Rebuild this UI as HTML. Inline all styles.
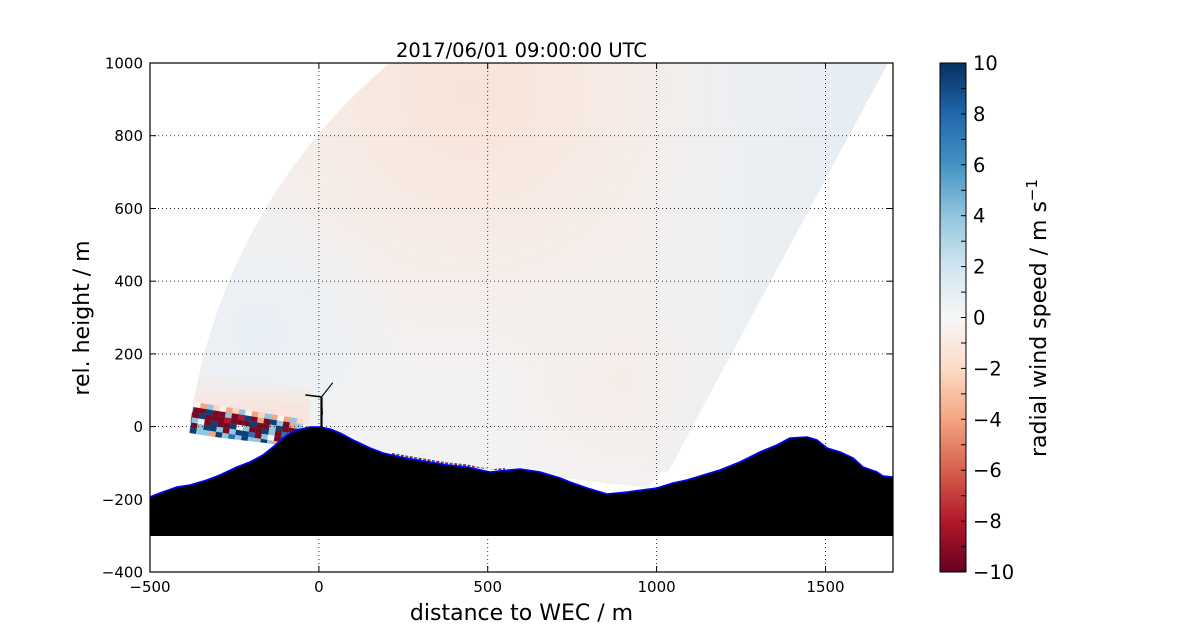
<!DOCTYPE html>
<html><head><meta charset="utf-8">
<style>
html,body{margin:0;padding:0;background:#fff;}
svg{display:block;}
text{font-family:"DejaVu Sans","Liberation Sans",sans-serif;fill:#000;}
.R{fill:#7a0822}.r{fill:#b2182b}.B{fill:#0d3f7a}.b{fill:#2f6fae}.L{fill:#92c5de}.P{fill:#f4a582}.W{fill:#f7f4f2}.p{fill:#fbd5c2}
</style></head>
<body>
<svg width="1200" height="636" viewBox="0 0 1200 636" xmlns="http://www.w3.org/2000/svg">
<defs>
  <clipPath id="ax"><rect x="150" y="63" width="743" height="509"/></clipPath>
  <clipPath id="fan"><path d="M648,488 L189,434 A568.3,568.3 0 0 1 390,63 L888,63 L668,472 L660,473 Z"/></clipPath>
  <radialGradient id="peach" gradientUnits="userSpaceOnUse" cx="470" cy="90" r="290">
    <stop offset="0" stop-color="#f9e2d6" stop-opacity="0.95"/>
    <stop offset="0.5" stop-color="#f9e5db" stop-opacity="0.55"/>
    <stop offset="1" stop-color="#f8e6de" stop-opacity="0"/>
  </radialGradient>
  <linearGradient id="blueR" gradientUnits="userSpaceOnUse" x1="630" y1="0" x2="860" y2="0">
    <stop offset="0" stop-color="#e6edf3" stop-opacity="0"/>
    <stop offset="1" stop-color="#e6edf3" stop-opacity="1"/>
  </linearGradient>
  <radialGradient id="blueL" gradientUnits="userSpaceOnUse" cx="260" cy="330" r="150">
    <stop offset="0" stop-color="#e8eff5" stop-opacity="1"/>
    <stop offset="1" stop-color="#e8eff5" stop-opacity="0"/>
  </radialGradient>
  <radialGradient id="peachLow" gradientUnits="userSpaceOnUse" cx="620" cy="380" r="130">
    <stop offset="0" stop-color="#f6ebe6" stop-opacity="0.8"/>
    <stop offset="1" stop-color="#f6ebe6" stop-opacity="0"/>
  </radialGradient>
  <linearGradient id="peachBand" gradientUnits="userSpaceOnUse" x1="0" y1="370" x2="0" y2="410">
    <stop offset="0" stop-color="#f9e7df" stop-opacity="0"/>
    <stop offset="1" stop-color="#f9e3d9" stop-opacity="0.9"/>
  </linearGradient>
  <linearGradient id="cbar" x1="0" y1="1" x2="0" y2="0">
    <stop offset="0" stop-color="#67001f"/>
    <stop offset="0.1" stop-color="#b2182b"/>
    <stop offset="0.2" stop-color="#d6604d"/>
    <stop offset="0.3" stop-color="#f4a582"/>
    <stop offset="0.4" stop-color="#fddbc7"/>
    <stop offset="0.5" stop-color="#f7f7f7"/>
    <stop offset="0.6" stop-color="#d1e5f0"/>
    <stop offset="0.7" stop-color="#92c5de"/>
    <stop offset="0.8" stop-color="#4393c3"/>
    <stop offset="0.9" stop-color="#2166ac"/>
    <stop offset="1" stop-color="#053061"/>
  </linearGradient>
</defs>

<!-- Fan (RHI scan) -->
<g clip-path="url(#ax)">
<g clip-path="url(#fan)">
  <rect x="150" y="63" width="743" height="509" fill="#f3f2f2"/>
  <rect x="150" y="63" width="743" height="509" fill="url(#peach)"/>
  <rect x="150" y="63" width="743" height="509" fill="url(#peachLow)"/>
  <rect x="150" y="63" width="743" height="509" fill="url(#blueL)"/>
  <rect x="150" y="63" width="743" height="509" fill="url(#blueR)"/>
  <polygon points="185,370 310,390 310,425 185,404" fill="url(#peachBand)"/>
  <!-- noisy band -->
  <g transform="translate(188,401) rotate(9)">
    <rect class="p" x="0" y="0" width="6.6" height="5.3"/><rect class="W" x="6.5" y="0" width="6.6" height="5.3"/><rect class="P" x="13" y="0" width="6.6" height="5.3"/><rect class="L" x="19.5" y="0" width="6.6" height="5.3"/><rect class="p" x="26" y="0" width="6.6" height="5.3"/><rect class="W" x="32.5" y="0" width="6.6" height="5.3"/><rect class="P" x="39" y="0" width="6.6" height="5.3"/><rect class="p" x="45.5" y="0" width="6.6" height="5.3"/><rect class="L" x="52" y="0" width="6.6" height="5.3"/><rect class="W" x="58.5" y="0" width="6.6" height="5.3"/><rect class="P" x="65" y="0" width="6.6" height="5.3"/><rect class="p" x="71.5" y="0" width="6.6" height="5.3"/><rect class="L" x="78" y="0" width="6.6" height="5.3"/><rect class="P" x="84.5" y="0" width="6.6" height="5.3"/><rect class="W" x="91" y="0" width="6.6" height="5.3"/><rect class="P" x="97.5" y="0" width="6.6" height="5.3"/><rect class="L" x="104" y="0" width="6.6" height="5.3"/><rect class="p" x="110.5" y="0" width="6.6" height="5.3"/>
    <rect class="L" x="0" y="5.2" width="6.6" height="5.3"/><rect class="R" x="6.5" y="5.2" width="6.6" height="5.3"/><rect class="R" x="13" y="5.2" width="6.6" height="5.3"/><rect class="B" x="19.5" y="5.2" width="6.6" height="5.3"/><rect class="R" x="26" y="5.2" width="6.6" height="5.3"/><rect class="R" x="32.5" y="5.2" width="6.6" height="5.3"/><rect class="L" x="39" y="5.2" width="6.6" height="5.3"/><rect class="R" x="45.5" y="5.2" width="6.6" height="5.3"/><rect class="r" x="52" y="5.2" width="6.6" height="5.3"/><rect class="B" x="58.5" y="5.2" width="6.6" height="5.3"/><rect class="R" x="65" y="5.2" width="6.6" height="5.3"/><rect class="P" x="71.5" y="5.2" width="6.6" height="5.3"/><rect class="R" x="78" y="5.2" width="6.6" height="5.3"/><rect class="B" x="84.5" y="5.2" width="6.6" height="5.3"/><rect class="L" x="91" y="5.2" width="6.6" height="5.3"/><rect class="R" x="97.5" y="5.2" width="6.6" height="5.3"/><rect class="P" x="104" y="5.2" width="6.6" height="5.3"/><rect class="L" x="110.5" y="5.2" width="6.6" height="5.3"/>
    <rect class="R" x="0" y="10.4" width="6.6" height="5.3"/><rect class="R" x="6.5" y="10.4" width="6.6" height="5.3"/><rect class="B" x="13" y="10.4" width="6.6" height="5.3"/><rect class="R" x="19.5" y="10.4" width="6.6" height="5.3"/><rect class="R" x="26" y="10.4" width="6.6" height="5.3"/><rect class="R" x="32.5" y="10.4" width="6.6" height="5.3"/><rect class="r" x="39" y="10.4" width="6.6" height="5.3"/><rect class="R" x="45.5" y="10.4" width="6.6" height="5.3"/><rect class="R" x="52" y="10.4" width="6.6" height="5.3"/><rect class="R" x="58.5" y="10.4" width="6.6" height="5.3"/><rect class="B" x="65" y="10.4" width="6.6" height="5.3"/><rect class="R" x="71.5" y="10.4" width="6.6" height="5.3"/><rect class="R" x="78" y="10.4" width="6.6" height="5.3"/><rect class="L" x="84.5" y="10.4" width="6.6" height="5.3"/><rect class="B" x="91" y="10.4" width="6.6" height="5.3"/><rect class="R" x="97.5" y="10.4" width="6.6" height="5.3"/><rect class="R" x="104" y="10.4" width="6.6" height="5.3"/><rect class="B" x="110.5" y="10.4" width="6.6" height="5.3"/>
    <rect class="B" x="0" y="15.6" width="6.6" height="5.3"/><rect class="L" x="6.5" y="15.6" width="6.6" height="5.3"/><rect class="W" x="13" y="15.6" width="6.6" height="5.3"/><rect class="R" x="19.5" y="15.6" width="6.6" height="5.3"/><rect class="B" x="26" y="15.6" width="6.6" height="5.3"/><rect class="R" x="32.5" y="15.6" width="6.6" height="5.3"/><rect class="R" x="39" y="15.6" width="6.6" height="5.3"/><rect class="B" x="45.5" y="15.6" width="6.6" height="5.3"/><rect class="W" x="52" y="15.6" width="6.6" height="5.3"/><rect class="L" x="58.5" y="15.6" width="6.6" height="5.3"/><rect class="R" x="65" y="15.6" width="6.6" height="5.3"/><rect class="R" x="71.5" y="15.6" width="6.6" height="5.3"/><rect class="B" x="78" y="15.6" width="6.6" height="5.3"/><rect class="L" x="84.5" y="15.6" width="6.6" height="5.3"/><rect class="R" x="91" y="15.6" width="6.6" height="5.3"/><rect class="b" x="97.5" y="15.6" width="6.6" height="5.3"/><rect class="L" x="104" y="15.6" width="6.6" height="5.3"/><rect class="R" x="110.5" y="15.6" width="6.6" height="5.3"/>
    <rect class="W" x="0" y="20.8" width="6.6" height="5.3"/><rect class="R" x="6.5" y="20.8" width="6.6" height="5.3"/><rect class="L" x="13" y="20.8" width="6.6" height="5.3"/><rect class="B" x="19.5" y="20.8" width="6.6" height="5.3"/><rect class="B" x="26" y="20.8" width="6.6" height="5.3"/><rect class="L" x="32.5" y="20.8" width="6.6" height="5.3"/><rect class="R" x="39" y="20.8" width="6.6" height="5.3"/><rect class="L" x="45.5" y="20.8" width="6.6" height="5.3"/><rect class="B" x="52" y="20.8" width="6.6" height="5.3"/><rect class="B" x="58.5" y="20.8" width="6.6" height="5.3"/><rect class="b" x="65" y="20.8" width="6.6" height="5.3"/><rect class="R" x="71.5" y="20.8" width="6.6" height="5.3"/><rect class="L" x="78" y="20.8" width="6.6" height="5.3"/><rect class="W" x="84.5" y="20.8" width="6.6" height="5.3"/><rect class="R" x="91" y="20.8" width="6.6" height="5.3"/><rect class="B" x="97.5" y="20.8" width="6.6" height="5.3"/><rect class="L" x="104" y="20.8" width="6.6" height="5.3"/><rect class="B" x="110.5" y="20.8" width="6.6" height="5.3"/>
    <rect class="L" x="0" y="26" width="6.6" height="5.3"/><rect class="B" x="6.5" y="26" width="6.6" height="5.3"/><rect class="L" x="13" y="26" width="6.6" height="5.3"/><rect class="L" x="19.5" y="26" width="6.6" height="5.3"/><rect class="P" x="26" y="26" width="6.6" height="5.3"/><rect class="B" x="32.5" y="26" width="6.6" height="5.3"/><rect class="L" x="39" y="26" width="6.6" height="5.3"/><rect class="b" x="45.5" y="26" width="6.6" height="5.3"/><rect class="L" x="52" y="26" width="6.6" height="5.3"/><rect class="B" x="58.5" y="26" width="6.6" height="5.3"/><rect class="L" x="65" y="26" width="6.6" height="5.3"/><rect class="L" x="71.5" y="26" width="6.6" height="5.3"/><rect class="B" x="78" y="26" width="6.6" height="5.3"/><rect class="L" x="84.5" y="26" width="6.6" height="5.3"/><rect class="P" x="91" y="26" width="6.6" height="5.3"/><rect class="L" x="97.5" y="26" width="6.6" height="5.3"/><rect class="B" x="104" y="26" width="6.6" height="5.3"/><rect class="W" x="110.5" y="26" width="6.6" height="5.3"/>
  </g>
  <!-- thin noisy strip along terrain -->
  <polyline points="392,454 400,455.5 423,459.5 447,463.5 467,465.5 490,470.5 505,469" fill="none" stroke="#b2182b" stroke-width="2.2" stroke-dasharray="3 6"/>
  <polyline points="392,454 400,455.5 423,459.5 447,463.5 467,465.5 490,470.5 505,469" fill="none" stroke="#2166ac" stroke-width="2.2" stroke-dasharray="3 6" stroke-dashoffset="4.5"/>
</g>

<!-- grid -->
<g stroke="#222" stroke-width="0.9" stroke-dasharray="1 3" fill="none">
  <line x1="318.9" y1="63" x2="318.9" y2="572"/>
  <line x1="487.7" y1="63" x2="487.7" y2="572"/>
  <line x1="656.6" y1="63" x2="656.6" y2="572"/>
  <line x1="825.5" y1="63" x2="825.5" y2="572"/>
  <line x1="150" y1="135.7" x2="893" y2="135.7"/>
  <line x1="150" y1="208.5" x2="893" y2="208.5"/>
  <line x1="150" y1="281.2" x2="893" y2="281.2"/>
  <line x1="150" y1="353.9" x2="893" y2="353.9"/>
  <line x1="150" y1="426.6" x2="893" y2="426.6"/>
  <line x1="150" y1="499.3" x2="893" y2="499.3"/>
</g>

<!-- terrain -->
<path d="M150,497 L160,493 L177,487 L190,485 L207,480 L220,475 L237,467 L250,462 L263,455 L273,447 L287,435 L297,430 L310,427 L320,427 L330,429 L340,433 L353,440 L370,448 L383,453 L400,457 L423,461 L447,465 L467,467 L490,472 L520,469 L540,472 L560,478 L570,482 L587,488 L607,494 L627,492 L657,488 L673,483 L687,480 L720,470 L740,462 L760,452 L777,445 L790,438 L807,437 L817,440 L827,448 L840,452 L853,458 L863,467 L877,472 L883,476 L893,477 L893,536 L150,536 Z" fill="#000"/>
<polyline points="150,497 160,493 177,487 190,485 207,480 220,475 237,467 250,462 263,455 273,447 287,435 297,430 310,427 320,427 330,429 340,433 353,440 370,448 383,453 400,457 423,461 447,465 467,467 490,472 520,469 540,472 560,478 570,482 587,488 607,494 627,492 657,488 673,483 687,480 720,470 740,462 760,452 777,445 790,438 807,437 817,440 827,448 840,452 853,458 863,467 877,472 883,476 893,477" fill="none" stroke="#0000ff" stroke-width="1.6" stroke-linejoin="round"/>

<!-- wind turbine -->
<g stroke="#000" fill="none" stroke-linecap="round">
  <line x1="321.5" y1="427" x2="321.5" y2="397" stroke-width="2.2"/>
  <line x1="321.5" y1="397" x2="332.5" y2="383" stroke-width="1.1"/>
  <line x1="321.5" y1="397" x2="306" y2="395" stroke-width="1.6"/>
  <line x1="321.5" y1="397" x2="322.5" y2="414" stroke-width="1"/>
</g>
</g>

<!-- axes frame -->
<rect x="150" y="63" width="743" height="509" fill="none" stroke="#000" stroke-width="1.2"/>

<!-- ticks -->
<g stroke="#000" stroke-width="1">
  <line x1="318.9" y1="572" x2="318.9" y2="566"/><line x1="487.7" y1="572" x2="487.7" y2="566"/><line x1="656.6" y1="572" x2="656.6" y2="566"/><line x1="825.5" y1="572" x2="825.5" y2="566"/>
  <line x1="318.9" y1="63" x2="318.9" y2="69"/><line x1="487.7" y1="63" x2="487.7" y2="69"/><line x1="656.6" y1="63" x2="656.6" y2="69"/><line x1="825.5" y1="63" x2="825.5" y2="69"/>
  <line x1="150" y1="135.7" x2="156" y2="135.7"/><line x1="150" y1="208.5" x2="156" y2="208.5"/><line x1="150" y1="281.2" x2="156" y2="281.2"/><line x1="150" y1="353.9" x2="156" y2="353.9"/><line x1="150" y1="426.6" x2="156" y2="426.6"/><line x1="150" y1="499.3" x2="156" y2="499.3"/>
  <line x1="893" y1="135.7" x2="887" y2="135.7"/><line x1="893" y1="208.5" x2="887" y2="208.5"/><line x1="893" y1="281.2" x2="887" y2="281.2"/><line x1="893" y1="353.9" x2="887" y2="353.9"/><line x1="893" y1="426.6" x2="887" y2="426.6"/><line x1="893" y1="499.3" x2="887" y2="499.3"/>
</g>

<!-- tick labels -->
<g font-size="15" text-anchor="end">
  <text x="143" y="68.5">1000</text>
  <text x="143" y="141.2">800</text>
  <text x="143" y="214">600</text>
  <text x="143" y="286.7">400</text>
  <text x="143" y="359.4">200</text>
  <text x="143" y="432.1">0</text>
  <text x="143" y="504.8">−200</text>
  <text x="143" y="577.5">−400</text>
</g>
<g font-size="15" text-anchor="middle">
  <text x="150" y="592">−500</text>
  <text x="318.9" y="592">0</text>
  <text x="487.7" y="592">500</text>
  <text x="656.6" y="592">1000</text>
  <text x="825.5" y="592">1500</text>
</g>

<!-- title & axis labels -->
<text x="521.5" y="57" font-size="19.5" text-anchor="middle">2017/06/01 09:00:00 UTC</text>
<text x="521.5" y="620" font-size="22" text-anchor="middle">distance to WEC / m</text>
<text transform="translate(89,318) rotate(-90)" font-size="22" text-anchor="middle">rel. height / m</text>

<!-- colorbar -->
<rect x="940" y="63" width="26" height="509" fill="url(#cbar)" stroke="#000" stroke-width="1"/>
<g stroke="#000" stroke-width="1">
  <line x1="966" y1="88.5" x2="961" y2="88.5"/><line x1="966" y1="113.9" x2="961" y2="113.9"/><line x1="966" y1="139.4" x2="961" y2="139.4"/><line x1="966" y1="164.8" x2="961" y2="164.8"/><line x1="966" y1="190.3" x2="961" y2="190.3"/><line x1="966" y1="215.7" x2="961" y2="215.7"/><line x1="966" y1="241.2" x2="961" y2="241.2"/><line x1="966" y1="266.6" x2="961" y2="266.6"/><line x1="966" y1="292.1" x2="961" y2="292.1"/><line x1="966" y1="317.5" x2="961" y2="317.5"/><line x1="966" y1="343" x2="961" y2="343"/><line x1="966" y1="368.4" x2="961" y2="368.4"/><line x1="966" y1="393.9" x2="961" y2="393.9"/><line x1="966" y1="419.3" x2="961" y2="419.3"/><line x1="966" y1="444.8" x2="961" y2="444.8"/><line x1="966" y1="470.2" x2="961" y2="470.2"/><line x1="966" y1="495.7" x2="961" y2="495.7"/><line x1="966" y1="521.1" x2="961" y2="521.1"/><line x1="966" y1="546.6" x2="961" y2="546.6"/>
</g>
<g font-size="19.5" text-anchor="start">
  <text x="973" y="70">10</text>
  <text x="973" y="120.9">8</text>
  <text x="973" y="171.8">6</text>
  <text x="973" y="222.7">4</text>
  <text x="973" y="273.6">2</text>
  <text x="973" y="324.5">0</text>
  <text x="973" y="375.4">−2</text>
  <text x="973" y="426.3">−4</text>
  <text x="973" y="477.2">−6</text>
  <text x="973" y="528.1">−8</text>
  <text x="973" y="579">−10</text>
</g>
<text transform="translate(1046,318) rotate(-90)" font-size="22" text-anchor="middle">radial wind speed / m s<tspan font-size="15" dy="-9">−1</tspan></text>
</svg>
</body></html>
